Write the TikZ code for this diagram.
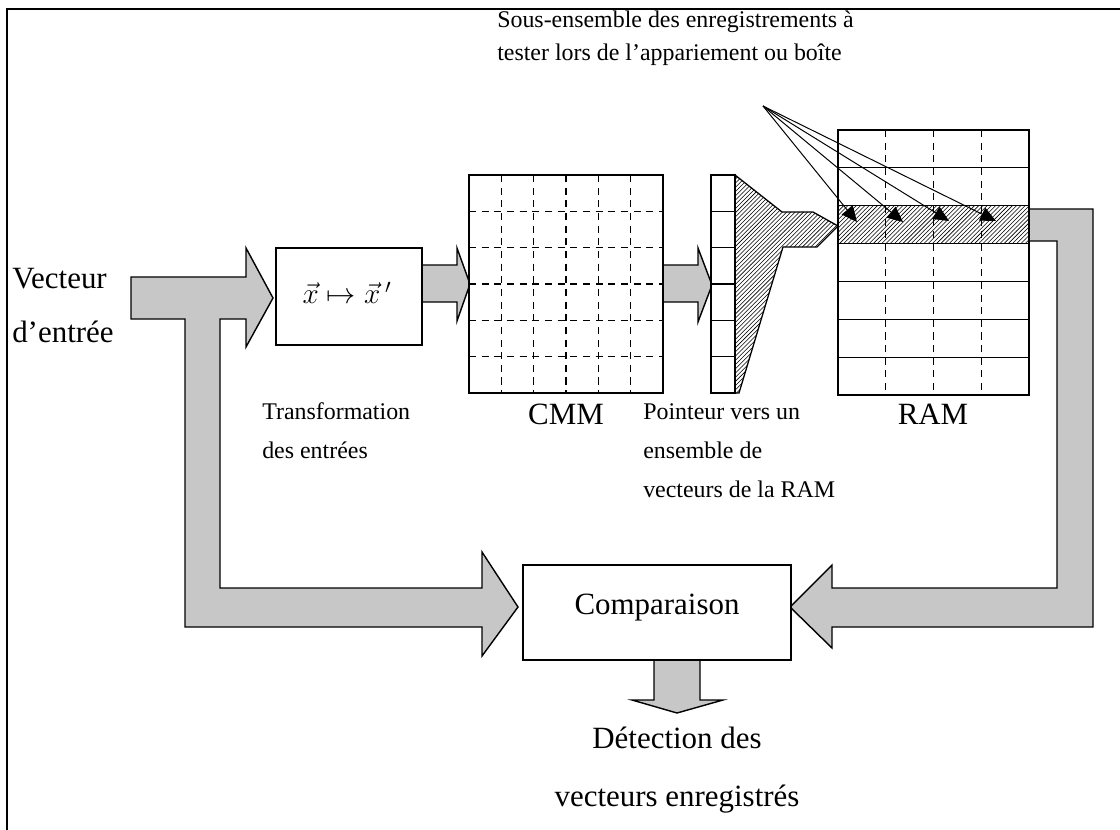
\documentclass[tikz,border=0pt]{standalone}
\usepackage{fontspec}
\setmainfont{Liberation Serif}
\usetikzlibrary{patterns,arrows.meta}
\begin{document}
\begin{tikzpicture}[x=0.025cm,y=-0.025cm,
  blockarrow/.style={draw=black,line width=1pt,fill=black!22,line join=miter},
  boxline/.style={draw=black,line width=0.9pt},
  hatch/.style={pattern=north east lines,pattern color=black},
  griddash/.style={line width=1pt,dash pattern=on 5pt off 4pt},
  small/.style={font=\fontsize{17}{27}\selectfont,inner sep=0pt},
  big/.style={font=\fontsize{22}{38}\selectfont,inner sep=0pt},
  pointerarrow/.style={line width=0.7pt,-{Triangle[length=11pt,width=10pt]}}]
\useasboundingbox (0,0) rectangle (1120,830);
% frame
\draw[line width=1.3pt] (7,830) -- (7,9) -- (1120,9);

% ---------- block arrows ----------
% input T arrow with feedback to comparison
\draw[blockarrow] (131,277) -- (246,277) -- (246,248) -- (273,298) -- (246,347) -- (246,319)
  -- (220,319) -- (220,588) -- (482,588) -- (482,552) -- (518,607) -- (482,656) -- (482,627)
  -- (185,627) -- (185,319) -- (131,319) -- cycle;
% transformation -> CMM
\draw[blockarrow] (422,265) -- (457,265) -- (457,248) -- (470,284) -- (457,321) -- (457,302) -- (422,302) -- cycle;
% CMM -> pointer
\draw[blockarrow] (663,265) -- (698,265) -- (698,248) -- (712,285) -- (698,322) -- (698,302) -- (663,302) -- cycle;
% RAM -> comparison
\draw[blockarrow] (1029,209) -- (1093,209) -- (1093,627) -- (832,627) -- (832,648) -- (790,607)
  -- (832,565) -- (832,588) -- (1057,588) -- (1057,241) -- (1029,241) -- cycle;
% comparison -> output
\draw[blockarrow] (654,655) -- (654,700) -- (632,700) -- (677,713) -- (723,700) -- (700,700) -- (700,655) -- cycle;

% ---------- transformation box ----------
\node[boxline,fill=white,minimum width=3.65cm,minimum height=2.425cm,inner sep=0pt] (trans) at (349,296.5) {};
\node[font=\fontsize{22}{26}\selectfont,inner sep=0pt] (transtxt) at (347,293) {$\vec{x}\mapsto\vec{x}\,'$};

% ---------- CMM ----------
\node[boxline,fill=white,minimum width=4.85cm,minimum height=5.45cm,inner sep=0pt] (cmm) at (566,284) {};
\foreach \i in {1,...,5}{
  \draw[griddash] ({469+\i*32.33},175) -- ({469+\i*32.33},393);
  \draw[griddash] (469,{175+\i*36.33}) -- (663,{175+\i*36.33});
}
\draw[boxline] (cmm.north west) rectangle (cmm.south east);

% ---------- pointer column ----------
\draw[boxline,hatch] (735,175) -- (782,212) -- (813,212) -- (838,226) -- (817,247) -- (783,247) -- (739,393) -- (735,393) -- cycle;
\node[boxline,fill=white,minimum width=0.6cm,minimum height=5.45cm,inner sep=0pt] (ptr) at (723,284) {};
\foreach \i in {1,...,5}{
  \draw[boxline] (711,{175+\i*36.33}) -- (735,{175+\i*36.33});
}

% ---------- RAM ----------
\node[boxline,fill=white,minimum width=4.775cm,minimum height=6.625cm,inner sep=0pt] (ram) at (933.5,262.5) {};
\fill[hatch] (838,205.7) rectangle (1029,243.6);
\foreach \i in {1,...,6}{
  \draw[boxline] (838,{130+\i*37.857}) -- (1029,{130+\i*37.857});
}
\foreach \i in {1,...,3}{
  \draw[griddash] ({838+\i*47.75},130) -- ({838+\i*47.75},395);
}
\draw[boxline] (ram.north west) rectangle (ram.south east);

% pointer arrows from label
\coordinate (src) at (763,106);
\coordinate (t1) at (857,222);
\coordinate (t2) at (903,222);
\coordinate (t3) at (949,221);
\coordinate (t4) at (996,221);
\foreach \t in {t1,t2,t3,t4}{
  \draw[pointerarrow] (src) -- (\t);
}

% ---------- comparison ----------
\node[boxline,fill=white,minimum width=6.7cm,minimum height=2.375cm,inner sep=0pt] (comp) at (657,612.5) {};
\node[big,anchor=base] (comptxt) at (657,614) {Comparaison};

% ---------- labels ----------
\node[big,anchor=base west] (vec1) at (12,288) {Vecteur};
\node[big,anchor=base west] (vec2) at (12,342) {d’entrée};
\node[small,anchor=base west] (tr1) at (262,419) {Transformation};
\node[small,anchor=base west] (tr2) at (262,458) {des entrées};
\node[big,anchor=base] (cmmlbl) at (566,424) {CMM};
\node[big,anchor=base] (ramlbl) at (933,424) {RAM};
\node[small,anchor=base west] (p1) at (643,419) {Pointeur vers un};
\node[small,anchor=base west] (p2) at (643,458) {ensemble de};
\node[small,anchor=base west] (p3) at (643,497) {vecteurs de la RAM};
\node[small,anchor=base west] (s1) at (497,27) {Sous-ensemble des enregistrements à};
\node[small,anchor=base west] (s2) at (497,60) {tester lors de l’appariement ou boîte};
\node[big,anchor=base] (d1) at (677,748) {Détection des};
\node[big,anchor=base] (d2) at (677,806) {vecteurs enregistrés};
\end{tikzpicture}
\end{document}
